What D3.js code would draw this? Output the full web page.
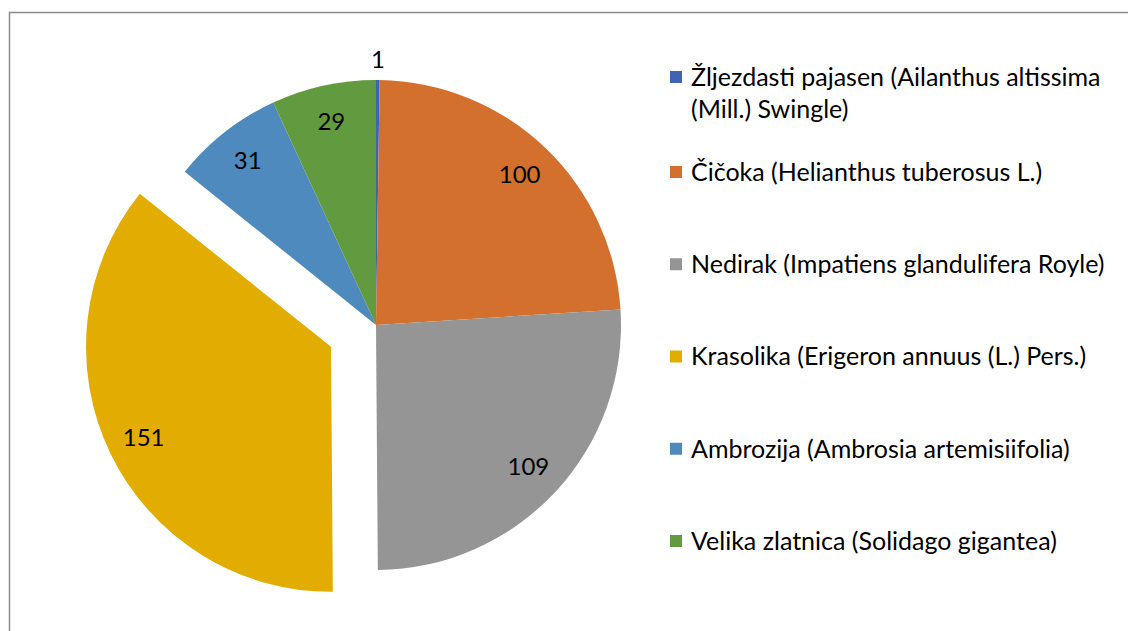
<!DOCTYPE html>
<html>
<head>
<meta charset="utf-8">
<script src="https://cdn.jsdelivr.net/npm/d3@7"></script>
<style>
  body { margin: 0; background: #fff; }
  text { font-family: Lato, "Open Sans", sans-serif; fill: #000; }
</style>
</head>
<body>
<div id="chart"></div>
<script>
// species names (legend lines) and counts
const names = [
  ["Žljezdasti pajasen (Ailanthus altissima", "(Mill.) Swingle)"],
  ["Čičoka (Helianthus tuberosus L.)"],
  ["Nedirak (Impatiens glandulifera Royle)"],
  ["Krasolika (Erigeron annuus (L.) Pers.)"],
  ["Ambrozija (Ambrosia artemisiifolia)"],
  ["Velika zlatnica (Solidago gigantea)"]
];
const counts = [1, 100, 109, 151, 31, 29];
const colors = ["#3F64B1", "#D3702D", "#959595", "#E2AC00", "#4E8ABE", "#629B3F"];
const exploded = [false, false, false, true, false, false];

const width = 1128;
const height = 631;

const svg = d3.select("#chart")
  .append("svg")
  .attr("width", width)
  .attr("height", height);

// chart area border
svg.append("rect")
  .attr("x", 9.5)
  .attr("y", 12.5)
  .attr("width", width)
  .attr("height", height)
  .attr("fill", "none")
  .attr("stroke", "#8c8c8c")
  .attr("stroke-width", 1.5);

const cx = 376, cy = 325;
const radius = 245;
const explodeBy = 50;

const data = counts.map((v, i) => ({ name: names[i], value: v, color: colors[i], out: exploded[i] }));

const pie = d3.pie()
  .value(d => d.value)
  .sort(null);

const arc = d3.arc()
  .innerRadius(0)
  .outerRadius(radius);

const arcs = pie(data);

const mid = d => (d.startAngle + d.endAngle) / 2;

const slices = svg.append("g")
  .attr("transform", `translate(${cx},${cy})`);

const sliceG = slices.selectAll("g.slice")
  .data(arcs)
  .enter()
  .append("g")
  .attr("class", "slice")
  .attr("transform", d => {
    if (!d.data.out) return null;
    const a = mid(d);
    return `translate(${Math.sin(a) * explodeBy},${-Math.cos(a) * explodeBy})`;
  });

sliceG.append("path")
  .attr("d", arc)
  .attr("fill", d => d.data.color);

// value labels - tiny slices get their label outside the pie
const labelR = d => d.value < 5 ? radius + 20 : radius * 0.85;

sliceG.append("text")
  .attr("x", d => Math.sin(mid(d)) * labelR(d))
  .attr("y", d => -Math.cos(mid(d)) * labelR(d))
  .attr("dy", "0.35em")
  .attr("text-anchor", "middle")
  .style("font-size", "24px")
  .text(d => d.value);

// legend
const legendY = d3.scaleLinear().domain([1, 5]).range([172, 541]);

const legend = svg.append("g").attr("class", "legend");

const items = legend.selectAll("g.item")
  .data(data)
  .enter()
  .append("g")
  .attr("class", "item")
  .attr("transform", (d, i) => `translate(670,${i === 0 ? 77 : legendY(i)})`);

items.append("rect")
  .attr("x", 0)
  .attr("y", -6)
  .attr("width", 12)
  .attr("height", 12)
  .attr("fill", d => d.color);

items.append("text")
  .attr("x", 21)
  .style("font-size", "25px")
  .selectAll("tspan")
  .data(d => d.name)
  .enter()
  .append("tspan")
  .attr("x", 21)
  .attr("y", (d, i) => i * 32)
  .attr("dy", "0.35em")
  .text(d => d);
</script>
</body>
</html>
